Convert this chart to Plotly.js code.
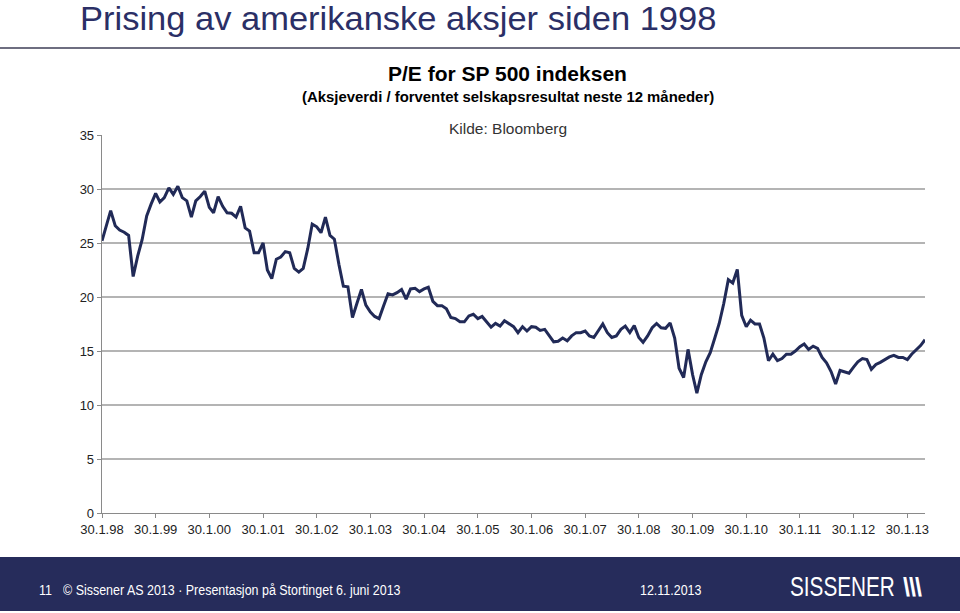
<!DOCTYPE html>
<html>
<head>
<meta charset="utf-8">
<script src="https://cdn.plot.ly/plotly-3.0.1.min.js"></script>
<style>
  html, body { margin: 0; padding: 0; background: #fff; }
  #slide { position: relative; width: 960px; height: 613px; overflow: hidden; font-family: "Liberation Sans", Arial, sans-serif; }
  #chart { position: absolute; left: 0; top: 0; width: 960px; height: 613px; }
  #heading { position: absolute; left: 80px; top: 5px; font-size: 33px; line-height: 28px; color: #2b2f66; white-space: nowrap;
             transform: scaleX(1.045); transform-origin: left top; }
  #rule { position: absolute; left: 0; top: 47px; width: 960px; height: 2px; background: #6e6e80; }
  #footer { position: absolute; left: 0; top: 557px; width: 960px; height: 54px; background: #262c5b; color: #fff; }
  #footer span { position: absolute; top: 25px; font-size: 14px; white-space: nowrap; transform: scaleX(0.89); transform-origin: left top; }
  #logo { position: absolute; left: 790px; top: 14px; font-size: 28px; color: #fff; white-space: nowrap;
          transform: scaleX(0.74); transform-origin: left top; }
  #slashes { position: absolute; left: 903px; top: 16px; font-size: 25px; font-weight: bold; color: #fff;
             letter-spacing: -1px; white-space: nowrap; }
</style>
</head>
<body>
<div id="slide">
  <div id="chart"></div>
  <div id="heading">Prising av amerikanske aksjer siden 1998</div>
  <div id="rule"></div>
  <div id="footer">
    <span style="left:39px">11</span>
    <span style="left:63px">© Sissener AS 2013 · Presentasjon på Stortinget 6. juni 2013</span>
    <span style="left:640px">12.11.2013</span>
    <div id="logo">SISSENER</div>
    <div id="slashes">\\\</div>
  </div>
</div>
<script>
// P/E SP 500, månedlig fra 30.1.98 til 30.5.13
const peValues = [
  25.2, 26.6, 28.0, 26.6, 26.2, 26.0, 25.7, 21.9, 23.8, 25.3, 27.5, 28.6,
  29.6, 28.8, 29.2, 30.1, 29.5, 30.25, 29.2, 28.9, 27.4, 28.9, 29.3, 29.8,
  28.3, 27.8, 29.3, 28.4, 27.8, 27.75, 27.4, 28.4, 26.4, 26.1, 24.1, 24.1,
  25.0, 22.5, 21.7, 23.5, 23.7, 24.2, 24.1, 22.65, 22.3, 22.65, 24.5, 26.75,
  26.5, 25.95, 27.4, 25.7, 25.35, 23.0, 21.0, 20.95, 18.1, 19.4, 20.7, 19.25,
  18.6, 18.2, 18.0, 19.2, 20.3, 20.2, 20.4, 20.7, 19.8, 20.75, 20.8, 20.5,
  20.75, 20.9, 19.6, 19.2, 19.2, 18.9, 18.1, 18.0, 17.7, 17.7, 18.25, 18.4,
  18.0, 18.2, 17.7, 17.2, 17.55, 17.3, 17.8, 17.5, 17.25, 16.7, 17.25, 16.85,
  17.25, 17.2, 16.9, 17.0, 16.4, 15.85, 15.9, 16.2, 15.95, 16.4, 16.7, 16.7,
  16.85, 16.4, 16.25, 16.9, 17.5, 16.7, 16.25, 16.4, 17.0, 17.3, 16.7, 17.35,
  16.25, 15.8, 16.4, 17.15, 17.55, 17.15, 17.1, 17.6, 16.2, 13.4, 12.55, 15.15,
  12.8, 11.1, 12.8, 14.0, 14.85, 16.2, 17.55, 19.4, 21.6, 21.3, 22.55, 18.3,
  17.25, 17.85, 17.5, 17.5, 16.2, 14.1, 14.7, 14.1, 14.3, 14.7, 14.7, 15.0,
  15.4, 15.65, 15.15, 15.45, 15.25, 14.4, 13.9, 13.1, 11.95, 13.2, 13.1, 12.95,
  13.5, 14.0, 14.3, 14.2, 13.3, 13.75, 13.95, 14.2, 14.45, 14.6, 14.4, 14.4,
  14.2, 14.7, 15.05, 15.5, 16.05
];

const tickYears = [1998, 1999, 2000, 2001, 2002, 2003, 2004, 2005, 2006, 2007, 2008, 2009, 2010, 2011, 2012, 2013];
const tickLabels = ['30.1.98', '30.1.99', '30.1.00', '30.1.01', '30.1.02', '30.1.03', '30.1.04', '30.1.05',
                    '30.1.06', '30.1.07', '30.1.08', '30.1.09', '30.1.10', '30.1.11', '30.1.12', '30.1.13'];

// månedsdatoer (30. i hver måned, 28. i februar)
const dates = peValues.map((_, i) => {
    const y = 1998 + Math.floor(i / 12), m = i % 12 + 1;
    return `${y}-${String(m).padStart(2, '0')}-${m === 2 ? 28 : 30}`;
});

const FONT = 'Liberation Sans, Arial, sans-serif';

Plotly.newPlot('chart', [{
    x: dates,
    y: peValues,
    type: 'scatter',
    mode: 'lines',
    line: { color: '#212a57', width: 3 },
    hoverinfo: 'x+y'
}], {
    width: 960,
    height: 613,
    margin: { l: 102, r: 35, t: 134.5, b: 99.5 },
    paper_bgcolor: 'rgba(0,0,0,0)',
    plot_bgcolor: 'rgba(0,0,0,0)',
    showlegend: false,
    font: { family: FONT, color: '#222' },
    xaxis: {
        type: 'date',
        range: [dates[0], dates[dates.length - 1]],
        tickmode: 'array',
        tickvals: tickYears.map(y => `${y}-01-30`),
        ticktext: tickLabels,
        tickfont: { size: 13, color: '#222' },
        showgrid: false,
        showline: true,
        linecolor: '#8a8a8a',
        linewidth: 1.3,
        ticks: 'outside',
        ticklen: 4,
        tickcolor: '#8a8a8a',
        zeroline: false
    },
    yaxis: {
        range: [0, 35],
        dtick: 5,
        tickfont: { size: 13, color: '#222' },
        showgrid: true,
        gridcolor: '#b4b4b4',
        gridwidth: 1.3,
        showline: true,
        linecolor: '#8a8a8a',
        linewidth: 1.3,
        ticks: 'outside',
        ticklen: 4,
        tickcolor: '#8a8a8a',
        zeroline: false
    },
    annotations: [
        { text: '<b>P/E for SP 500 indeksen</b>', xref: 'paper', yref: 'paper', x: 0.4933, y: 1.162,
          yanchor: 'middle', showarrow: false, font: { size: 21, color: '#000', family: FONT } },
        { text: '<b>(Aksjeverdi / forventet selskapsresultat neste 12 måneder)</b>', xref: 'paper', yref: 'paper',
          x: 0.4933, y: 1.1016, yanchor: 'middle', showarrow: false, font: { size: 14.9, color: '#000', family: FONT } },
        { text: 'Kilde: Bloomberg', xref: 'paper', yref: 'paper', x: 0.4933, y: 1.017,
          yanchor: 'middle', showarrow: false, font: { size: 15.5, color: '#333', family: FONT } }
    ]
}, { staticPlot: true });
</script>
</body>
</html>
